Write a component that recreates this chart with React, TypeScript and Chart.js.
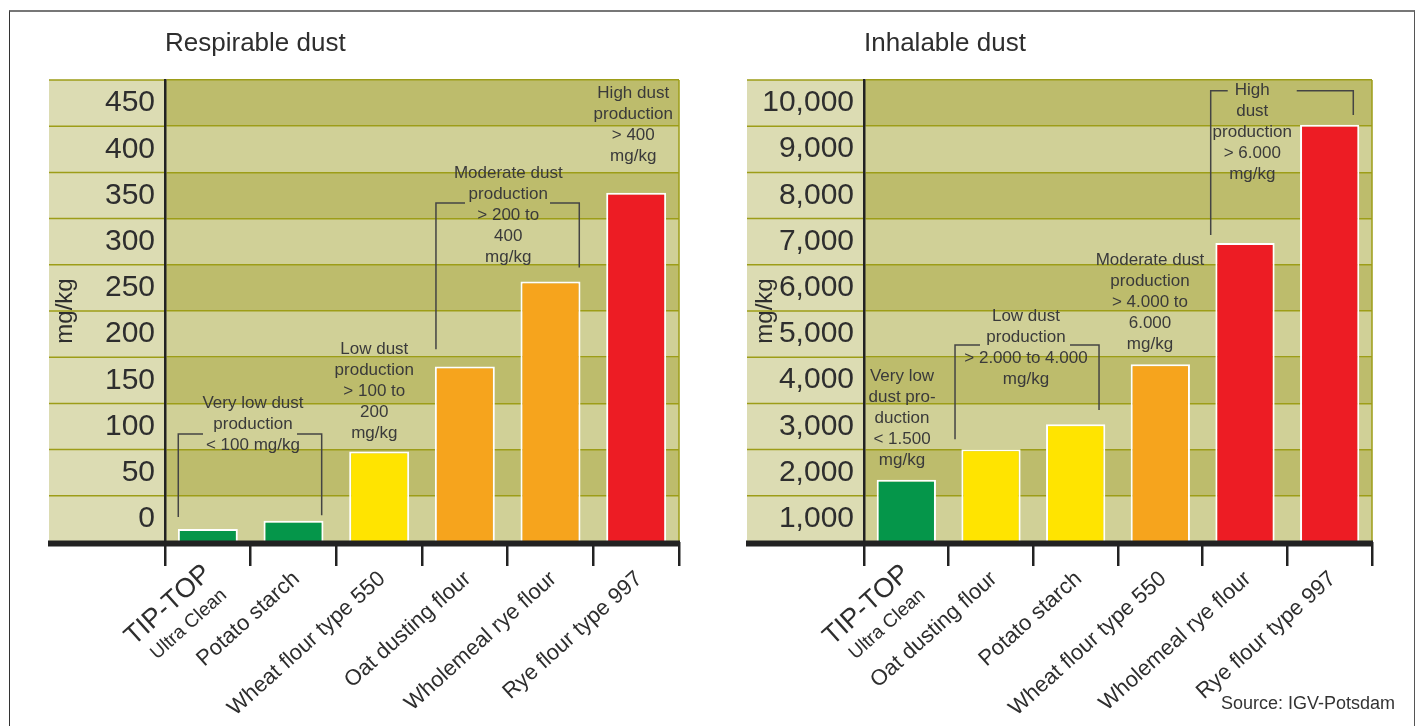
import React, { useEffect, useRef } from 'react';
import { Chart, registerables } from 'chart.js';

Chart.register(...registerables);

const FONT = '"Liberation Sans", Arial, sans-serif';
const GREEN = '#05964a';
const YELLOW = '#ffe400';
const ORANGE = '#f6a41d';
const RED = '#ed1c24';
const DARK_BAND = '#bdbc6c';
const LIGHT_BAND = '#d0d097';
const COLUMN_BG = '#dcdcb3';
const GRID = '#9d9d18';
const TEXT = '#2e2e2e';
const ROT = 42;

// ---------- Respirable dust ----------
const respCategories = ['TIP-TOP', 'Potato starch', 'Wheat flour type 550', 'Oat dusting flour', 'Wholemeal rye flour', 'Rye flour type 997'];
const respValues = [14, 23, 98, 190, 282, 378];
const respColors = [GREEN, GREEN, YELLOW, ORANGE, ORANGE, RED];
const respTickLabels = ['0', '50', '100', '150', '200', '250', '300', '350', '400', '450'];

// ---------- Inhalable dust ----------
const inhCategories = ['TIP-TOP', 'Oat dusting flour', 'Potato starch', 'Wheat flour type 550', 'Wholemeal rye flour', 'Rye flour type 997'];
const inhValues = [1350, 2010, 2550, 3850, 6470, 9030];
const inhColors = [GREEN, YELLOW, YELLOW, ORANGE, RED, RED];
const inhTickLabels = ['1,000', '2,000', '3,000', '4,000', '5,000', '6,000', '7,000', '8,000', '9,000', '10,000'];

// annotation notes (x in category units, y in value units of first line)
const respNotes = [
  { lines: ['Very low dust', 'production', '< 100 mg/kg'], x: 0.527, y: 150 },
  { lines: ['Low dust', 'production', '> 100 to', '200', 'mg/kg'], x: 1.943, y: 208 },
  { lines: ['Moderate dust', 'production', '> 200 to', '400', 'mg/kg'], x: 3.507, y: 399 },
  { lines: ['High dust', 'production', '> 400', 'mg/kg'], x: 4.966, y: 485.5 },
];
const respBrackets = [
  { x1: -0.345, x2: 1.329, top: 117, b1: 27, b2: 29, g1: -0.056, g2: 1.041 },
  { x1: 2.663, x2: 4.336, top: 367, b1: 208.5, b2: 297, g1: 3.002, g2: 3.994 },
];
const inhNotes = [
  { lines: ['Very low', 'dust pro-', 'duction', '< 1.500', 'mg/kg'], x: -0.051, y: 3578 },
  { lines: ['Low dust', 'production', '> 2.000 to 4.000', 'mg/kg'], x: 1.413, y: 4892 },
  { lines: ['Moderate dust', 'production', '> 4.000 to', '6.000', 'mg/kg'], x: 2.878, y: 6104 },
  { lines: ['High', 'dust', 'production', '> 6.000', 'mg/kg'], x: 4.086, y: 9768 },
];
const inhBrackets = [
  { x1: 0.575, x2: 2.276, top: 4264, b1: 2223, b2: 2857, g1: 0.87, g2: 1.933 },
  { x1: 3.595, x2: 5.279, top: 9768, b1: 6645, b2: 9242, g1: 3.796, g2: 4.611 },
];

const deco = {
  id: 'deco',
  beforeDraw(chart: any, _a: any, opts: any) {
    const { ctx, chartArea: a, scales } = chart;
    const y = scales.y;
    const colLeft = a.left - opts.colWidth;
    ctx.save();
    ctx.fillStyle = COLUMN_BG;
    ctx.fillRect(colLeft, a.top, a.left - colLeft, a.bottom - a.top);
    const ticks = y.ticks;
    for (let i = 0; i < ticks.length - 1; i++) {
      const y0 = y.getPixelForValue(ticks[i].value);
      const y1 = y.getPixelForValue(ticks[i + 1].value);
      const fromTop = ticks.length - 2 - i;
      ctx.fillStyle = fromTop % 2 === 0 ? DARK_BAND : LIGHT_BAND;
      ctx.fillRect(a.left, y1, a.right - a.left, y0 - y1);
    }
    ctx.strokeStyle = GRID;
    ctx.lineWidth = 1.5;
    ctx.beginPath();
    for (const t of ticks) {
      const py = y.getPixelForValue(t.value);
      ctx.moveTo(colLeft, py);
      ctx.lineTo(a.left, py);
    }
    ctx.moveTo(a.right, a.top);
    ctx.lineTo(a.right, a.bottom);
    ctx.stroke();
    ctx.restore();
  },
  afterDatasetsDraw(chart: any, _a: any, opts: any) {
    const { ctx, chartArea: a, scales } = chart;
    const x = scales.x;
    const y = scales.y;
    const colLeft = a.left - opts.colWidth;
    ctx.save();
    // thick baseline
    ctx.fillStyle = '#222';
    ctx.fillRect(colLeft - 1, a.bottom - 1.5, a.right - colLeft + 2, 6);
    // notes
    ctx.fillStyle = '#3a3a3a';
    ctx.font = `17px ${FONT}`;
    ctx.textAlign = 'center';
    ctx.textBaseline = 'middle';
    for (const n of opts.notes) {
      const px = x.getPixelForValue(n.x);
      const py = y.getPixelForValue(n.y);
      n.lines.forEach((l: string, i: number) => ctx.fillText(l, px, py + i * 21));
    }
    // brackets
    ctx.strokeStyle = '#444';
    ctx.lineWidth = 1.5;
    for (const b of opts.brackets) {
      const X1 = x.getPixelForValue(b.x1);
      const X2 = x.getPixelForValue(b.x2);
      const G1 = x.getPixelForValue(b.g1);
      const G2 = x.getPixelForValue(b.g2);
      const T = y.getPixelForValue(b.top);
      ctx.beginPath();
      ctx.moveTo(X1, y.getPixelForValue(b.b1));
      ctx.lineTo(X1, T);
      ctx.lineTo(G1, T);
      ctx.moveTo(G2, T);
      ctx.lineTo(X2, T);
      ctx.lineTo(X2, y.getPixelForValue(b.b2));
      ctx.stroke();
    }
    ctx.restore();
  },
  afterDraw(chart: any) {
    const { ctx, chartArea: a, scales } = chart;
    const x0 = scales.x.getPixelForValue(0);
    ctx.save();
    ctx.translate(x0 - 8, a.bottom + 19);
    ctx.rotate((-ROT * Math.PI) / 180);
    ctx.fillStyle = TEXT;
    ctx.textAlign = 'right';
    ctx.textBaseline = 'alphabetic';
    ctx.font = `27px ${FONT}`;
    ctx.fillText(chart.data.labels[0], 0, 19.3);
    ctx.font = `19px ${FONT}`;
    ctx.fillText('Ultra Clean', -3, 45);
    ctx.restore();
  },
};

function makeConfig(p: {
  title: string; labels: string[]; values: number[]; colors: string[];
  max: number; step: number; tickLabel: (i: number) => string; labelOffset: number;
  padLeft: number; padRight: number; axisWidth: number; colWidth: number; notes: any[]; brackets: any[];
}): any {
  return {
    type: 'bar',
    data: {
      labels: p.labels,
      datasets: [{
        data: p.values,
        backgroundColor: p.colors,
        borderColor: '#ffffff',
        borderWidth: 2,
        categoryPercentage: 1,
        barPercentage: 0.7,
      }],
    },
    plugins: [deco],
    options: {
      responsive: false,
      animation: false,
      layout: { padding: { left: p.padLeft, right: p.padRight, top: 0, bottom: 0 } },
      plugins: {
        legend: { display: false },
        tooltip: { enabled: false },
        title: {
          display: true, text: p.title, align: 'start', fullSize: false,
          font: { size: 26, weight: 'normal', family: FONT }, color: TEXT,
          padding: { top: 28, bottom: 20.8 },
        },
        deco: { colWidth: p.colWidth, notes: p.notes, brackets: p.brackets },
      },
      scales: {
        x: {
          type: 'category',
          offset: true,
          grid: { display: true, drawOnChartArea: false, drawTicks: true, tickLength: 24, color: '#222', lineWidth: 2.5, offset: true },
          border: { display: false },
          ticks: {
            autoSkip: false, maxRotation: ROT, minRotation: ROT, padding: 0, labelOffset: 3,
            font: { size: 22, family: FONT }, color: TEXT,
            callback: (_v: any, i: number) => (i === 0 ? '' : p.labels[i]),
          },
          afterFit: (s: any) => { s.height = 184; },
        },
        y: {
          min: 0, max: p.max,
          ticks: {
            stepSize: p.step, labelOffset: p.labelOffset, padding: 10,
            font: { size: 30, family: FONT }, color: TEXT,
            callback: (_v: any, i: number) => p.tickLabel(i),
          },
          grid: { color: GRID, lineWidth: 1.5, drawTicks: false },
          border: { display: true, color: '#222', width: 2.5 },
          title: { display: true, text: 'mg/kg', font: { size: 24, family: FONT }, color: TEXT, padding: { top: 10.6, bottom: 0 } },
          afterFit: (s: any) => { s.width = p.axisWidth; },
        },
      },
    },
  };
}

export default function App() {
  const leftRef = useRef<HTMLCanvasElement>(null);
  const rightRef = useRef<HTMLCanvasElement>(null);

  useEffect(() => {
    Chart.defaults.font.family = FONT;
    const c1 = new Chart(leftRef.current as HTMLCanvasElement, makeConfig({
      title: 'Respirable dust', labels: respCategories, values: respValues, colors: respColors,
      max: 500, step: 50, tickLabel: (i) => respTickLabels[i] ?? '', labelOffset: -23,
      padLeft: 40, padRight: 31, axisWidth: 125, colWidth: 116, notes: respNotes, brackets: respBrackets,
    }));
    const c2 = new Chart(rightRef.current as HTMLCanvasElement, makeConfig({
      title: 'Inhalable dust', labels: inhCategories, values: inhValues, colors: inhColors,
      max: 10000, step: 1000, tickLabel: (i) => (i === 0 ? '' : inhTickLabels[i - 1] ?? ''), labelOffset: 23,
      padLeft: 40, padRight: 49, axisWidth: 124, colWidth: 117, notes: inhNotes, brackets: inhBrackets,
    }));
    return () => { c1.destroy(); c2.destroy(); };
  }, []);

  return (
    <div style={{ position: 'absolute', left: 0, top: 0, width: 1421, height: 726, overflow: 'hidden', background: '#fff' }}>
      <div style={{
        position: 'absolute', left: 9, top: 10, width: 1406, height: 740, boxSizing: 'border-box',
        borderTop: '2px solid #777', borderLeft: '1.5px solid #333', borderRight: '1.5px solid #555',
      }} />
      <canvas ref={leftRef} width={710} height={726} style={{ position: 'absolute', left: 0, top: 0 }} />
      <canvas ref={rightRef} width={721} height={726} style={{ position: 'absolute', left: 700, top: 0 }} />
      <div style={{
        position: 'absolute', right: 26, top: 693, font: `18px ${FONT}`, lineHeight: '20px', color: '#333',
      }}>Source: IGV-Potsdam</div>
    </div>
  );
}
